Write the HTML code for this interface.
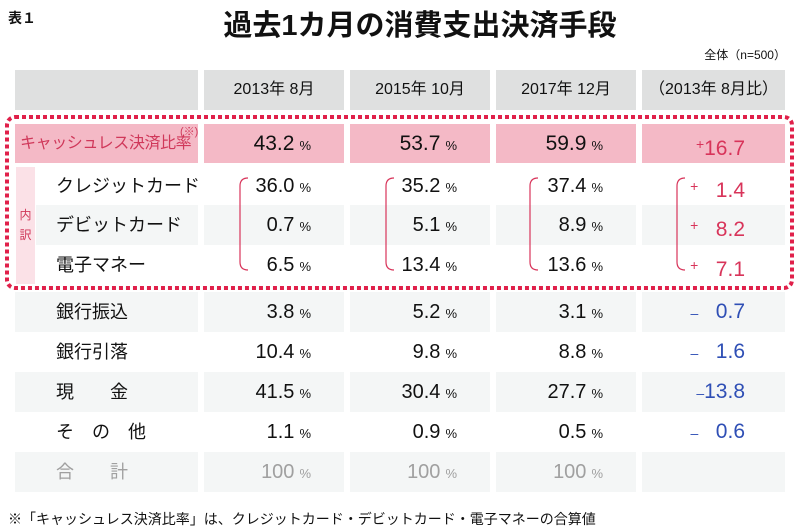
<!DOCTYPE html>
<html><head><meta charset="utf-8">
<style>
body{margin:0;width:800px;height:530px;background:#fff;position:relative;overflow:hidden;font-family:"Liberation Sans","Noto Sans CJK JP",sans-serif;color:#111}
.a{position:absolute}
.cell{position:absolute;box-sizing:border-box}
.num{position:absolute;font-size:20px;text-align:right;white-space:nowrap}
.pct{font-size:13px;margin-left:5px}
.lab{position:absolute;font-size:18px;white-space:nowrap}
</style></head><body>
<div class="a" style="left:8px;top:8px;font-size:14px;font-weight:bold">表１</div>
<div class="a" style="left:200px;top:2px;width:440px;text-align:center;font-size:29px;font-weight:bold">過去1カ月の消費支出決済手段</div>
<div class="a" style="right:14px;top:46px;font-size:12px">全体（n=500）</div>
<div id="t"></div>
<div class="a" style="left:8px;top:509px;font-size:14px">※「キャッシュレス決済比率」は、クレジットカード・デビットカード・電子マネーの合算値</div>
<svg class="a" style="left:0;top:0" width="800" height="530" id="ov"></svg>
<script>
const headers=["2013年 8月","2015年 10月","2017年 12月","（2013年 8月比）"];
const rowLabels=["キャッシュレス決済比率","クレジットカード","デビットカード","電子マネー","銀行振込","銀行引落","現　　金","そ　の　他","合　　計"];
const v2013=[43.2,36.0,0.7,6.5,3.8,10.4,41.5,1.1,100];
const v2015=[53.7,35.2,5.1,13.4,5.2,9.8,30.4,0.9,100];
const v2017=[59.9,37.4,8.9,13.6,3.1,8.8,27.7,0.5,100];
const diffs=[16.7,1.4,8.2,7.1,-0.7,-1.6,-13.8,-0.6,null];
const colX=[204,350,496,642], colW=[140,140,140,143];
const rowY=[124,167,205,245,292,332,372,412,452], rowH=[39,38,40,39,40,40,40,40,40];
const t=document.getElementById('t');
function mk(cls,style,txt,name){const d=document.createElement('div');d.className=cls;d.style.cssText=style;if(txt!=null)d.innerHTML=txt;


t.appendChild(d);return d;}
mk('cell','left:15px;top:70px;width:183px;height:40px;background:#dfe0e0',null,'header-blank');
headers.forEach((h,i)=>{mk('cell',`left:${colX[i]}px;top:70px;width:${colW[i]}px;height:40px;background:#dfe0e0;font-size:16px;text-align:center;line-height:40px`,h,'column-header');});
mk('cell','left:16px;top:167px;width:19px;height:117px;background:#fbe1e7;color:#d0385a;font-size:12px;text-align:center;padding-top:38px;line-height:20px','内<br>訳','breakdown-label');
rowLabels.forEach((lab,r)=>{
  const y=rowY[r],h=rowH[r];
  let bg=null;
  if(r==0)bg='#f4b9c6';else if(r==2||r==4||r==6||r==8)bg='#f4f6f6';
  const lx=(r>=1&&r<=3)?36:15;
  if(bg){mk('cell',`left:${lx}px;top:${y}px;width:${198-lx}px;height:${h}px;background:${bg}`,null,'row-label-bg');
    colX.forEach((x,i)=>mk('cell',`left:${x}px;top:${y}px;width:${colW[i]}px;height:${h}px;background:${bg}`,null,'cell-bg'));}
  const col=r==0?'#d0385a':(r==8?'#a0a0a0':'#111');
  const lstyle=r==0?'font-size:16px;letter-spacing:-0.4px':'font-size:18px';
  mk('lab',`left:${r==0?20:56}px;top:${y+(h-26)/2}px;line-height:26px;color:${col};${lstyle}`,lab+(r==0?'<span style="position:absolute;left:160px;top:-12px;font-size:11px;letter-spacing:0">(※)</span>':''),'row-label');
  const vals=[v2013[r],v2015[r],v2017[r]];
  const ends=[291,437,583];
  vals.forEach((v,i)=>{
    const s=v==100?'100':v.toFixed(1);
    const c=r==8?'#a0a0a0':'#111';
    mk('num',`right:${800-ends[i]-20}px;top:${y+(h-26)/2}px;line-height:26px;color:${c};font-size:${r==0?21:20}px`,s+`<span class="pct">%</span>`,'value-cell');
  });
  const d=diffs[r];
  if(d!=null){
    const pos=d>0, c=pos?'#d8345a':'#2f4fb5';
    const s=Math.abs(d).toFixed(1);
    const sign=pos?'<span style="font-size:14px;vertical-align:6px">+</span>':'<span style="font-size:14px">–</span>';
    const gap=Math.abs(d)>=10?'':'&nbsp;&nbsp;&nbsp;';
    mk('num',`right:${800-745}px;top:${y+(h-26)/2}px;line-height:26px;color:${c};font-size:21px`,sign+gap+s,'diff-cell');
  }
});
const ov=document.getElementById('ov');
function sv(tag,attrs,name){const e=document.createElementNS('http://www.w3.org/2000/svg',tag);for(const k in attrs)e.setAttribute(k,attrs[k]);


ov.appendChild(e);return e;}
sv('rect',{x:7,y:117,width:785,height:171,rx:8,fill:'none',stroke:'#e0204a','stroke-width':4,'stroke-dasharray':'4 3'},'cashless-highlight-border');
const bx=[240,386,530,677];
bx.forEach(x=>sv('path',{d:`M${x+8} 178 Q${x} 178 ${x} 186 L${x} 262 Q${x} 270 ${x+8} 270`,fill:'none',stroke:'#d8345a','stroke-width':1.2},'breakdown-bracket'));
</script>
</body></html>
